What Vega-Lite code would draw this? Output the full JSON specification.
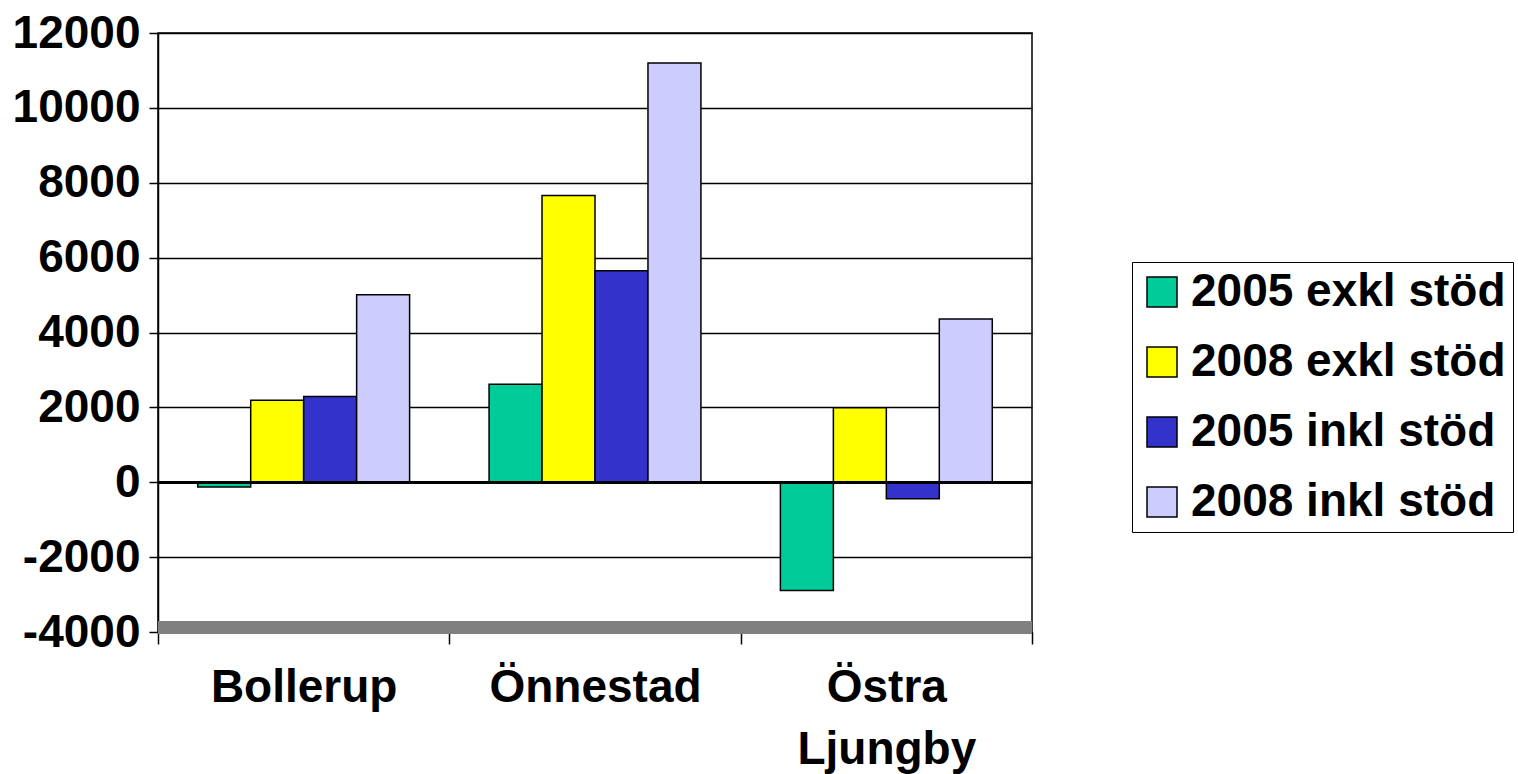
{
  "$schema": "https://vega.github.io/schema/vega-lite/v6.json",
  "autosize": "none",
  "width": 874,
  "height": 599,
  "padding": {"left": 158, "top": 33, "right": 486, "bottom": 142},
  "background": "white",
  "config": {
    "font": "Liberation Sans",
    "view": {"stroke": "black", "strokeWidth": 1.5}
  },
  "data": {
    "values": [
      {"place": "Bollerup", "series": "2005 exkl stöd", "value": -130},
      {"place": "Bollerup", "series": "2008 exkl stöd", "value": 2190},
      {"place": "Bollerup", "series": "2005 inkl stöd", "value": 2290},
      {"place": "Bollerup", "series": "2008 inkl stöd", "value": 5010},
      {"place": "Önnestad", "series": "2005 exkl stöd", "value": 2620},
      {"place": "Önnestad", "series": "2008 exkl stöd", "value": 7660},
      {"place": "Önnestad", "series": "2005 inkl stöd", "value": 5650},
      {"place": "Önnestad", "series": "2008 inkl stöd", "value": 11200},
      {"place": "Östra Ljungby", "series": "2005 exkl stöd", "value": -2890},
      {"place": "Östra Ljungby", "series": "2008 exkl stöd", "value": 1990},
      {"place": "Östra Ljungby", "series": "2005 inkl stöd", "value": -440},
      {"place": "Östra Ljungby", "series": "2008 inkl stöd", "value": 4360}
    ]
  },
  "layer": [
    {
      "mark": {"type": "bar", "stroke": "black", "strokeWidth": 1.5},
      "encoding": {
        "x": {
          "field": "place",
          "type": "nominal",
          "sort": ["Bollerup", "Önnestad", "Östra Ljungby"],
          "scale": {"paddingInner": 0, "paddingOuter": 0},
          "axis": {
            "title": null,
            "labelAngle": 0,
            "labelFont": "Liberation Sans",
            "labelFontSize": 46,
            "labelFontWeight": "bold",
            "labelColor": "black",
            "labelLimit": 0,
            "labelPadding": 21,
            "labelLineHeight": 62,
            "labelExpr": "datum.label == 'Östra Ljungby' ? ['Östra', 'Ljungby'] : datum.label",
            "domainColor": "black",
            "domainWidth": 1.5,
            "tickColor": "black",
            "tickWidth": 1.5,
            "tickSize": 12,
            "tickBand": "extent"
          }
        },
        "xOffset": {
          "field": "series",
          "type": "nominal",
          "sort": ["2005 exkl stöd", "2008 exkl stöd", "2005 inkl stöd", "2008 inkl stöd"],
          "scale": {"paddingInner": 0, "paddingOuter": 0.75}
        },
        "y": {
          "field": "value",
          "type": "quantitative",
          "scale": {"domain": [-4000, 12000], "nice": false},
          "axis": {
            "title": null,
            "values": [-4000, -2000, 0, 2000, 4000, 6000, 8000, 10000, 12000],
            "labelExpr": "datum.value < 0 ? '-' + abs(datum.value) : '' + datum.value",
            "labelFont": "Liberation Sans",
            "labelFontSize": 46,
            "labelFontWeight": "bold",
            "labelColor": "black",
            "labelPadding": 9,
            "tickColor": "black",
            "tickWidth": 1.5,
            "tickSize": 9,
            "domainColor": "black",
            "domainWidth": 1.5,
            "grid": true,
            "gridColor": "black",
            "gridWidth": 1.5
          }
        },
        "color": {
          "field": "series",
          "type": "nominal",
          "sort": ["2005 exkl stöd", "2008 exkl stöd", "2005 inkl stöd", "2008 inkl stöd"],
          "scale": {
            "domain": ["2005 exkl stöd", "2008 exkl stöd", "2005 inkl stöd", "2008 inkl stöd"],
            "range": ["#00CC99", "#FFFF00", "#3333CC", "#CCCCFF"]
          },
          "legend": {
            "title": null,
            "orient": "none",
            "legendX": 974,
            "legendY": 229,
            "strokeColor": "black",
            "padding": 7,
            "symbolType": "square",
            "symbolSize": 900,
            "symbolStrokeColor": "black",
            "symbolStrokeWidth": 1.5,
            "labelFont": "Liberation Sans",
            "labelFontSize": 46,
            "labelFontWeight": "bold",
            "labelColor": "black",
            "labelLimit": 0,
            "labelOffset": 6,
            "rowPadding": 24
          }
        }
      }
    },
    {
      "mark": {"type": "rule", "color": "black", "strokeWidth": 2},
      "encoding": {"y": {"datum": 0}}
    },
    {
      "mark": {"type": "rule", "color": "#808080", "strokeWidth": 12},
      "encoding": {"y": {"datum": -3880}}
    }
  ]
}
